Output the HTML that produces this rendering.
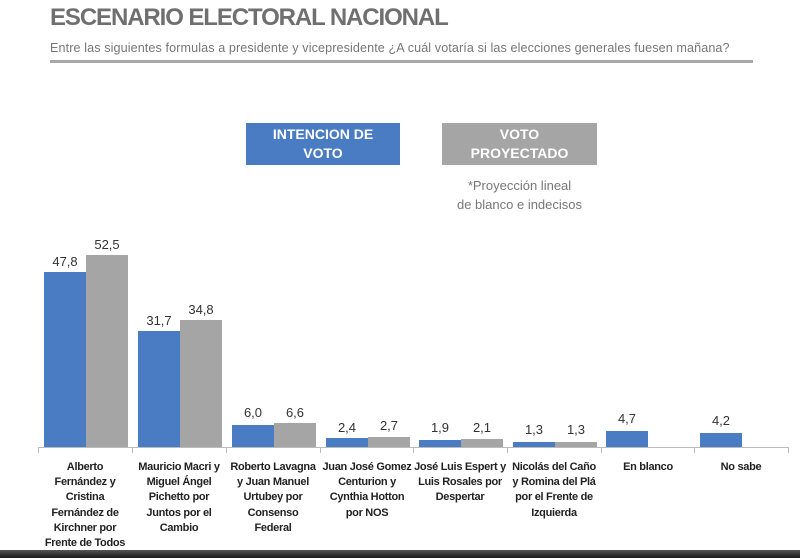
<!DOCTYPE html>
<html><head><meta charset="utf-8"><style>
body{margin:0;width:800px;height:558px;background:#fff;position:relative;overflow:hidden;font-family:"Liberation Sans",sans-serif}
.a{position:absolute}
.b{position:absolute;background:#4a7cc4}
.g{position:absolute;background:#a5a5a5}
.v{position:absolute;width:50px;text-align:center;font-size:13px;color:#333;font-family:"Liberation Sans Narrow","Liberation Sans",sans-serif}
.l{position:absolute;width:94px;text-align:center;font-size:11px;line-height:15.2px;color:#222;font-weight:bold;font-family:"Liberation Sans Narrow","Liberation Sans",sans-serif;letter-spacing:-0.3px}
.t{position:absolute;top:447px;width:1px;height:6px;background:#bbb}
</style></head><body>
<div class="a" style="left:50px;top:4px;font-size:24px;font-weight:bold;color:#6f6f6f;letter-spacing:-1.1px">ESCENARIO ELECTORAL NACIONAL</div>
<div class="a" style="left:50px;top:41px;font-size:12.6px;color:#777;letter-spacing:0.1px">Entre las siguientes formulas a presidente y vicepresidente ¿A cuál votaría si las elecciones generales fuesen mañana?</div>
<div class="a" style="left:50px;top:60px;width:703px;height:3px;background:#a8a8a8"></div>
<div class="a" style="left:246px;top:123px;width:154px;height:42px;background:#4a7cc4;color:#fff;font-weight:bold;font-size:14px;text-align:center;line-height:19px;padding-top:2px;box-sizing:border-box">INTENCION DE<br>VOTO</div>
<div class="a" style="left:442px;top:123px;width:155px;height:42px;background:#a5a5a5;color:#fff;font-weight:bold;font-size:14px;text-align:center;line-height:19px;padding-top:2px;box-sizing:border-box">VOTO<br>PROYECTADO</div>
<div class="a" style="left:442px;top:176px;width:155px;text-align:center;font-size:13px;line-height:19px;color:#777">*Proyección lineal<br>de blanco e indecisos</div>
<div class="a" style="left:38px;top:447px;width:750px;height:1px;background:#bbb"></div>
<div class="t" style="left:38px"></div><div class="t" style="left:132px"></div><div class="t" style="left:226px"></div><div class="t" style="left:320px"></div><div class="t" style="left:413px"></div><div class="t" style="left:507px"></div><div class="t" style="left:601px"></div><div class="t" style="left:694px"></div><div class="t" style="left:788px"></div>

<div class="b" style="left:44px;top:272px;width:42px;height:175px"></div><div class="g" style="left:86px;top:255px;width:42px;height:192px"></div>
<div class="v" style="left:40px;top:254px">47,8</div><div class="v" style="left:82px;top:237px">52,5</div>
<div class="b" style="left:138px;top:331px;width:42px;height:116px"></div><div class="g" style="left:180px;top:320px;width:42px;height:127px"></div>
<div class="v" style="left:134px;top:313px">31,7</div><div class="v" style="left:176px;top:302px">34,8</div>
<div class="b" style="left:232px;top:425px;width:42px;height:22px"></div><div class="g" style="left:274px;top:423px;width:42px;height:24px"></div>
<div class="v" style="left:228px;top:405px">6,0</div><div class="v" style="left:270px;top:405px">6,6</div>
<div class="b" style="left:326px;top:438px;width:42px;height:9px"></div><div class="g" style="left:368px;top:437px;width:42px;height:10px"></div>
<div class="v" style="left:322px;top:420px">2,4</div><div class="v" style="left:364px;top:418px">2,7</div>
<div class="b" style="left:419px;top:440px;width:42px;height:7px"></div><div class="g" style="left:461px;top:439px;width:42px;height:8px"></div>
<div class="v" style="left:415px;top:420px">1,9</div><div class="v" style="left:457px;top:420px">2,1</div>
<div class="b" style="left:513px;top:442px;width:42px;height:5px"></div><div class="g" style="left:555px;top:442px;width:42px;height:5px"></div>
<div class="v" style="left:509px;top:422px">1,3</div><div class="v" style="left:551px;top:422px">1,3</div>
<div class="b" style="left:606px;top:431px;width:42px;height:16px"></div>
<div class="v" style="left:602px;top:411px">4,7</div>
<div class="b" style="left:700px;top:433px;width:42px;height:14px"></div>
<div class="v" style="left:696px;top:413px">4,2</div>

<div class="l" style="left:38px;top:460px">Alberto<br>Fernández y<br>Cristina<br>Fernández de<br>Kirchner por<br>Frente de Todos</div>
<div class="l" style="left:132px;top:460px">Mauricio Macri y<br>Miguel Ángel<br>Pichetto por<br>Juntos por el<br>Cambio</div>
<div class="l" style="left:226px;top:460px">Roberto Lavagna<br>y Juan Manuel<br>Urtubey por<br>Consenso<br>Federal</div>
<div class="l" style="left:320px;top:460px">Juan José Gomez<br>Centurion y<br>Cynthia Hotton<br>por NOS</div>
<div class="l" style="left:413px;top:460px">José Luis Espert y<br>Luis Rosales por<br>Despertar</div>
<div class="l" style="left:507px;top:460px">Nicolás del Caño<br>y Romina del Plá<br>por el Frente de<br>Izquierda</div>
<div class="l" style="left:601px;top:460px">En blanco</div>
<div class="l" style="left:694px;top:460px">No sabe</div>
<div class="a" style="left:0;top:550px;width:800px;height:8px;background:linear-gradient(#555,#1a1a1a)"></div>
</body></html>
